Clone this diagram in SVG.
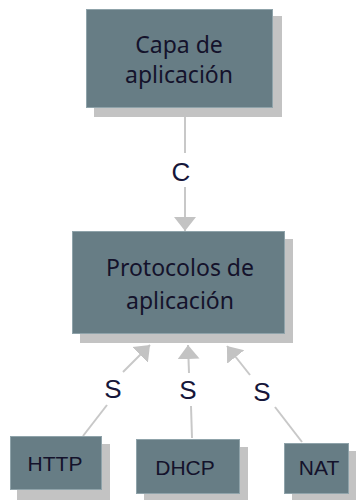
<svg xmlns="http://www.w3.org/2000/svg" width="356" height="500" viewBox="0 0 356 500">
  <defs>
    <style>
      .shadow { fill: #c3c3c3; }
      .box { fill: #677d85; stroke: #8fa3aa; stroke-width: 1; }
      .title { font-family: "Noto Sans", "DejaVu Sans", sans-serif; font-size: 23px; fill: #14122b; text-anchor: middle; }
      .name { font-family: "Liberation Sans", Arial, sans-serif; font-size: 21px; fill: #14122b; text-anchor: middle; }
      .edge { stroke: #c8c8c8; stroke-width: 2; fill: none; }
      .tag { font-family: "Liberation Sans", Arial, sans-serif; font-size: 26px; fill: #16163a; text-anchor: middle; }
    </style>
    <marker id="head" markerUnits="userSpaceOnUse" markerWidth="16" markerHeight="24" refX="14" refY="12" orient="auto">
      <path d="M0,1 L14,12 L0,23 Z" fill="#c3c3c3"/>
    </marker>
  </defs>

  <!-- connectors -->
  <g id="connectors">
    <line class="edge" x1="185" y1="107" x2="185" y2="153"/>
    <line class="edge" x1="185" y1="187" x2="185" y2="231" marker-end="url(#head)"/>
    <text class="tag" x="181" y="181">C</text>

    <line class="edge" x1="83" y1="436" x2="107" y2="405"/>
    <line class="edge" x1="123" y1="372" x2="150" y2="345" marker-end="url(#head)"/>
    <text class="tag" x="113" y="398">S</text>

    <line class="edge" x1="192" y1="438" x2="191" y2="406"/>
    <line class="edge" x1="189" y1="373" x2="188" y2="345" marker-end="url(#head)"/>
    <text class="tag" x="188" y="399">S</text>

    <line class="edge" x1="302" y1="442" x2="275" y2="407"/>
    <line class="edge" x1="250" y1="375" x2="227" y2="346" marker-end="url(#head)"/>
    <text class="tag" x="262" y="401">S</text>
  </g>

  <!-- application layer -->
  <g id="capa">
    <rect class="shadow" x="94" y="16" width="188" height="101"/>
    <rect class="box" x="86.5" y="9.5" width="186" height="98"/>
    <text class="title" x="179" y="53">Capa de</text>
    <text class="title" x="179" y="83">aplicación</text>
  </g>

  <!-- application protocols -->
  <g id="protocolos">
    <rect class="shadow" x="80" y="239" width="213" height="104"/>
    <rect class="box" x="72.5" y="231.5" width="212" height="102"/>
    <text class="title" x="180" y="276">Protocolos de</text>
    <text class="title" x="180" y="309">aplicación</text>
  </g>

  <g id="http">
    <rect class="shadow" x="17" y="444" width="93" height="56"/>
    <rect class="box" x="10.5" y="436.5" width="91" height="53"/>
    <text class="name" x="55" y="471">HTTP</text>
  </g>

  <g id="dhcp">
    <rect class="shadow" x="144" y="447" width="104" height="53"/>
    <rect class="box" x="136.5" y="439.5" width="103" height="54"/>
    <text class="name" x="185" y="475">DHCP</text>
  </g>

  <g id="nat">
    <rect class="shadow" x="292" y="451" width="64" height="49"/>
    <rect class="box" x="284.5" y="443.5" width="64" height="50"/>
    <text class="name" x="319" y="475">NAT</text>
  </g>
</svg>
